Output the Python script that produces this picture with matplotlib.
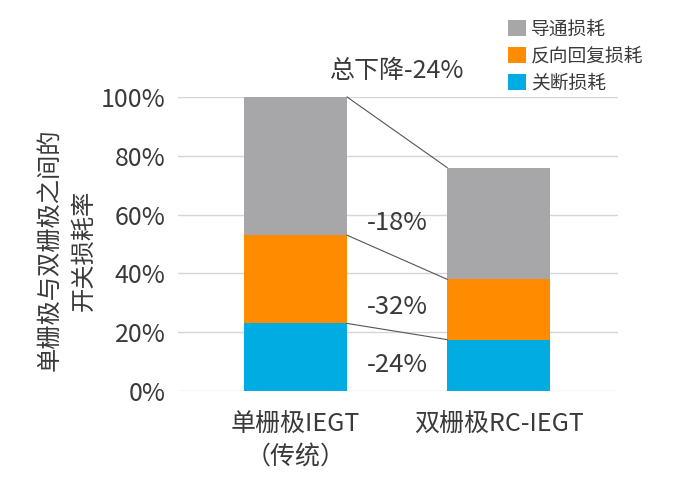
import numpy as np
import matplotlib
matplotlib.use('Agg')
import matplotlib.pyplot as plt

plt.rcParams['font.family'] = ['Noto Sans CJK SC', 'DejaVu Sans']

# Data
categories = ['单栅极IEGT\n（传统）', '双栅极RC-IEGT']
turn_off = [23, 17.5]          # 关断损耗
reverse_recovery = [30, 20.5]  # 反向回复损耗
conduction = [47, 38]          # 导通损耗
series_names = ['导通损耗', '反向回复损耗', '关断损耗']
reductions = ['-18%', '-32%', '-24%']
total_label = '总下降-24%'
yticks = [0, 20, 40, 60, 80, 100]

c_gray = '#a7a7aa'
c_orange = '#ff8c00'
c_blue = '#00ace2'
txt = '#3a3a3a'

fig = plt.figure(figsize=(6.93, 4.95), dpi=100)
ax = fig.add_axes([0.257, 0.210, 0.635, 0.594])

x = np.arange(len(categories))
w = 0.507
b1 = ax.bar(x, turn_off, w, color=c_blue, zorder=2)
b2 = ax.bar(x, reverse_recovery, w, bottom=turn_off, color=c_orange, zorder=2)
bottom3 = np.add(turn_off, reverse_recovery)
b3 = ax.bar(x, conduction, w, bottom=bottom3, color=c_gray, zorder=2)

# connector lines between stacked segment tops
tops = [np.array(turn_off), bottom3, bottom3 + np.array(conduction)]
for t in tops:
    ax.plot([x[0] + w / 2, x[1] - w / 2], [t[0], t[1]], color='#555555',
            lw=0.8, zorder=3, clip_on=False)

# reduction labels
mid = (x[0] + x[1]) / 2
ax.text(mid, 57, reductions[0], ha='center', va='center', fontsize=18.5, color=txt)
ax.text(mid, 28.5, reductions[1], ha='center', va='center', fontsize=18.5, color=txt)
ax.text(mid, 9, reductions[2], ha='center', va='center', fontsize=18.5, color=txt)
ax.text(mid, 109, total_label, ha='center', va='center', fontsize=18,
        color=txt, clip_on=False)

ax.set_xlim(-0.579, 1.589)
ax.set_ylim(0, 100)
ax.set_yticks(yticks)
ax.set_yticklabels([f'{v}%' for v in yticks], fontsize=18, color=txt)
ax.set_xticks(x)
ax.set_xticklabels(categories, fontsize=18, color=txt, linespacing=1.3)
ax.tick_params(length=0)
ax.tick_params(axis='y', pad=9)
ax.tick_params(axis='x', pad=15)
ax.yaxis.grid(True, color='#d6d6d6', lw=1, zorder=0)
ax.set_axisbelow(True)
for s in ax.spines.values():
    s.set_visible(False)

fig.text(0.097, 0.495, '单栅极与双栅极之间的\n开关损耗率', rotation=90,
         ha='center', va='center', multialignment='center',
         fontsize=17.5, color=txt, linespacing=1.35)

leg = fig.legend([b3, b2, b1], series_names, loc='upper left',
                 bbox_to_anchor=(0.708, 0.997), frameon=False, fontsize=13.5,
                 handlelength=1.0, handleheight=1.0, handletextpad=0.25,
                 labelspacing=0.32, labelcolor=txt)

fig.savefig('out.png', dpi=100)
